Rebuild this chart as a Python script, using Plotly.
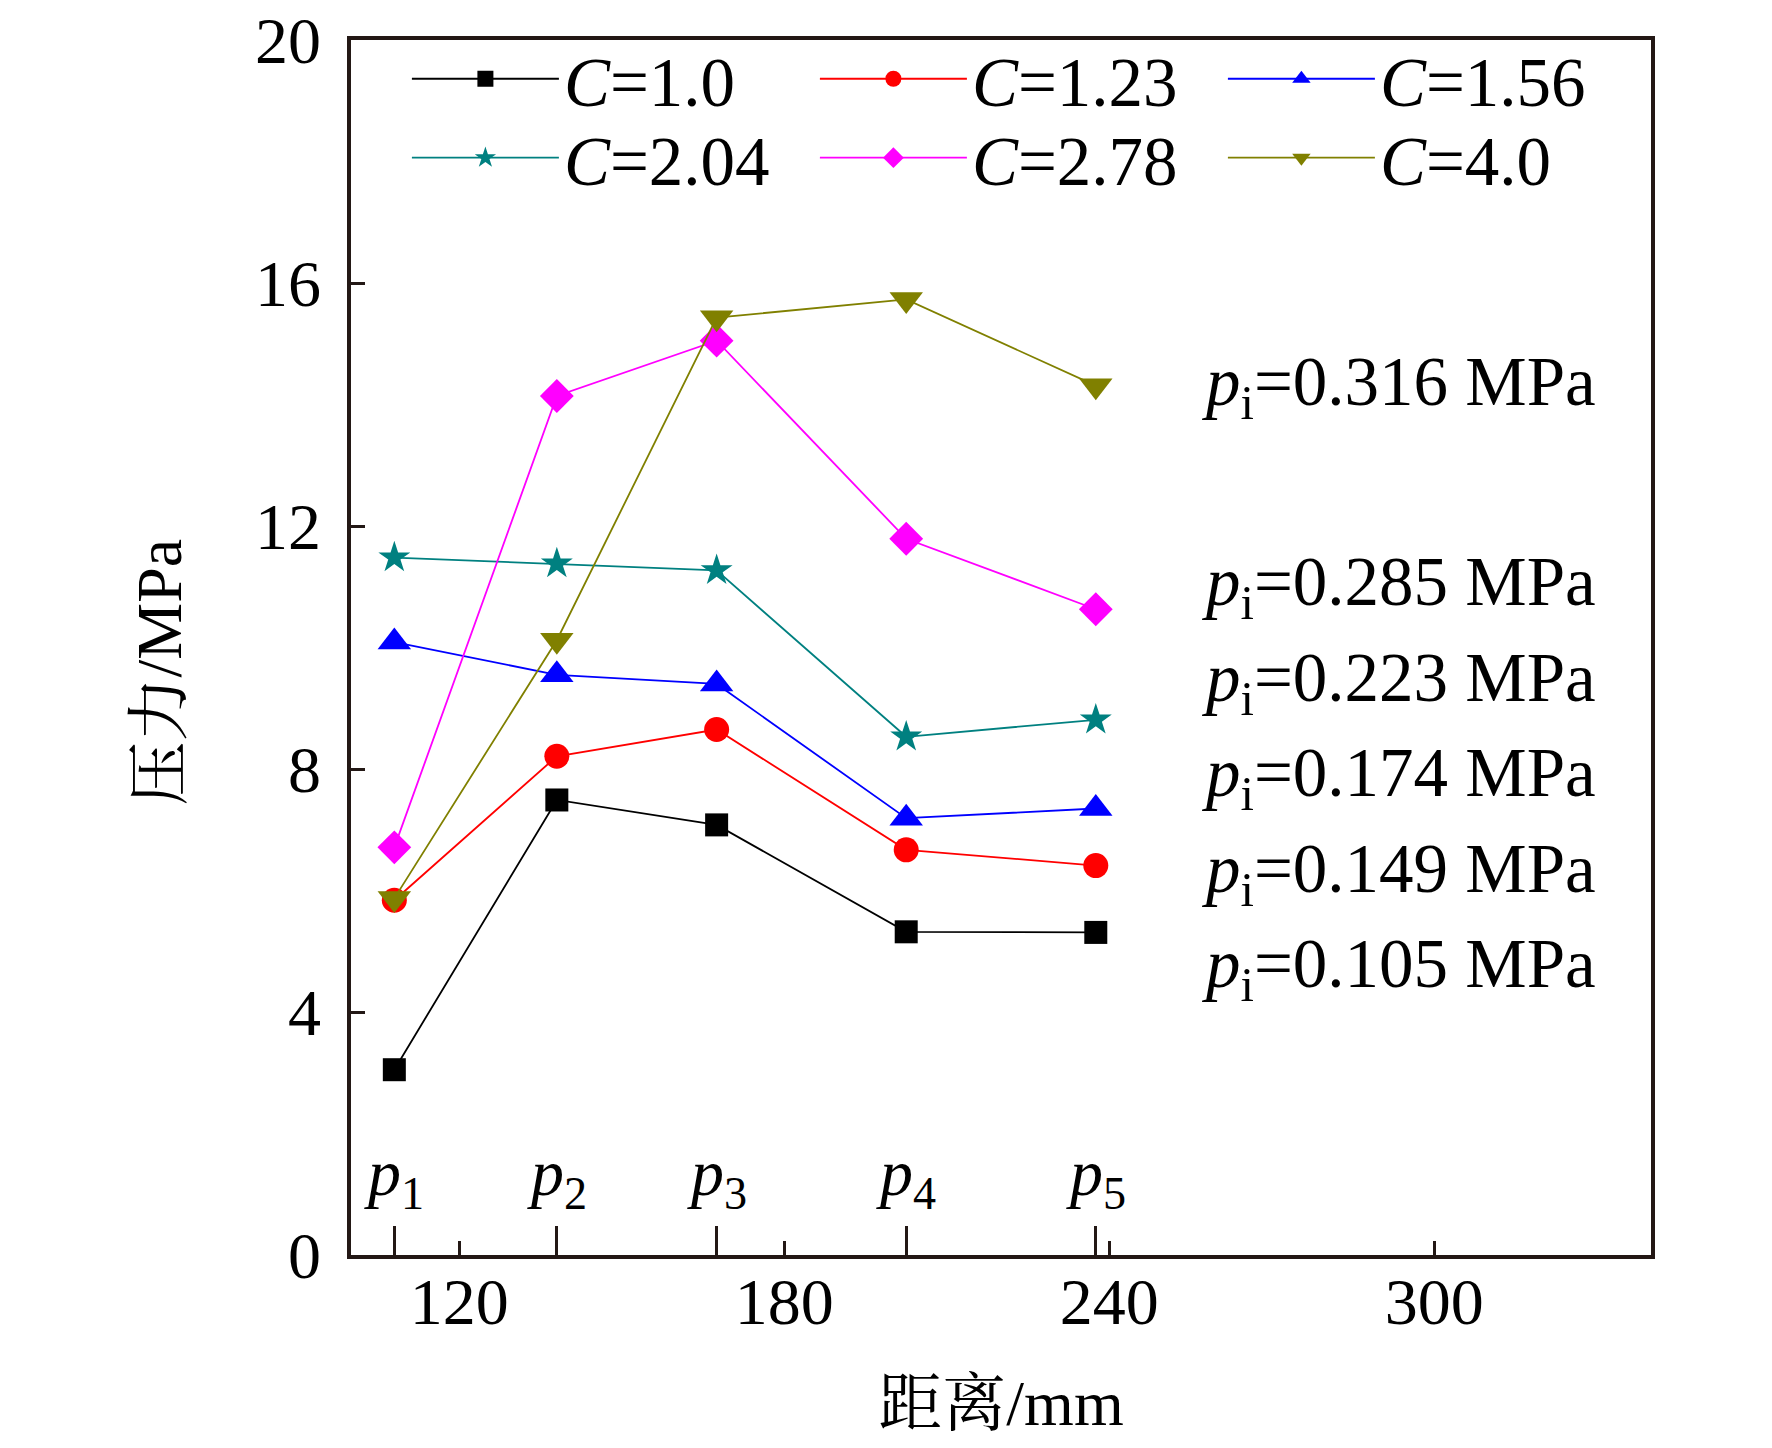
import plotly.graph_objects as go

# measuring points along the specimen (mm)
distance = [108, 138, 167.5, 202.5, 237.5]
point_names = ["<i>p</i><sub>1</sub>", "<i>p</i><sub>2</sub>", "<i>p</i><sub>3</sub>",
               "<i>p</i><sub>4</sub>", "<i>p</i><sub>5</sub>"]

# pressure (MPa) for each C value
series_names = ["<i>C</i>=1.0", "<i>C</i>=1.23", "<i>C</i>=1.56",
                "<i>C</i>=2.04", "<i>C</i>=2.78", "<i>C</i>=4.0"]
p_c100 = [3.05, 7.49, 7.08, 5.32, 5.31]
p_c123 = [5.84, 8.21, 8.65, 6.67, 6.41]
p_c156 = [10.09, 9.55, 9.40, 7.19, 7.35]
p_c204 = [11.48, 11.38, 11.27, 8.53, 8.81]
p_c278 = [6.71, 14.14, 15.05, 11.79, 10.63]
p_c400 = [5.87, 10.12, 15.43, 15.73, 14.31]

pi_values = ["0.316", "0.285", "0.223", "0.174", "0.149", "0.105"]

x_ticks = [120, 180, 240, 300]
y_ticks = [0, 4, 8, 12, 16, 20]

FONT = "Liberation Serif, Times New Roman, Noto Serif CJK SC, Noto Sans CJK SC"
AXC = "#231815"

colors = ["#000000", "#ff0000", "#0000ff", "#008080", "#ff00ff", "#808000"]
symbols = ["square", "circle", "triangle-up", "star", "diamond", "triangle-down"]
msizes = [23, 25, 29, 24, 26, 29]
all_data = [p_c100, p_c123, p_c156, p_c204, p_c278, p_c400]

fig = go.Figure()
for i, (name, vals) in enumerate(zip(series_names, all_data)):
    fig.add_trace(go.Scatter(
        x=distance, y=vals, name=name, mode="lines+markers",
        line=dict(color=colors[i], width=1.8),
        marker=dict(symbol=symbols[i], size=msizes[i], color=colors[i]),
        legend="legend" if i < 3 else "legend2",
    ))

# long ticks marking the measuring points
fig.add_trace(go.Scatter(x=distance, y=[None] * 5, xaxis="x2", showlegend=False,
                         hoverinfo="skip"))

annos = []
for xv, t in zip(distance, point_names):
    annos.append(dict(x=xv, y=0, xref="x", yref="y", text=t, showarrow=False,
                      xanchor="center", yanchor="bottom", yshift=34,
                      font=dict(family=FONT, size=66, color="black")))

pi_y = [14.29, 11.01, 9.43, 7.86, 6.28, 4.71]
for yv, v in zip(pi_y, pi_values):
    annos.append(dict(x=0.652, y=yv, xref="paper", yref="y",
                      text="<i>p</i><sub>i</sub>=" + v + " MPa", showarrow=False,
                      xanchor="left", yanchor="middle",
                      font=dict(family=FONT, size=69, color="black")))

# y axis title, placed by hand so it sits like the original
annos.append(dict(x=0, y=0.5, xref="paper", yref="paper", text="压力/MPa",
                  textangle=-90, showarrow=False, xanchor="center", yanchor="middle",
                  xshift=-192, yshift=-25,
                  font=dict(family=FONT, size=64, color="black")))

leg_common = dict(orientation="h", xanchor="left", yanchor="middle",
                  bgcolor="rgba(0,0,0,0)", borderwidth=0, itemwidth=147,
                  entrywidth=246, entrywidthmode="pixels",
                  font=dict(family=FONT, size=69, color="black"))

fig.update_layout(
    width=1772, height=1448,
    margin=dict(l=343, r=129, t=32, b=201, autoexpand=False),
    paper_bgcolor="white", plot_bgcolor="white",
    font=dict(family=FONT, size=66, color="black"),
    annotations=annos,
    legend=dict(x=0.043, y=0.968, **leg_common),
    legend2=dict(x=0.043, y=0.903, **leg_common),
    xaxis=dict(
        range=[100, 340], tickvals=x_ticks, ticks="inside", ticklen=14,
        tickwidth=2.5, tickcolor=AXC, showline=True, linewidth=3.5, linecolor=AXC,
        mirror=True, showgrid=False, zeroline=False, ticklabelstandoff=-14,
        tickfont=dict(family=FONT, size=66), ticklabeloverflow="allow",
        automargin=False,
        title=dict(text="距离/mm", font=dict(family=FONT, size=64), standoff=44),
    ),
    xaxis2=dict(
        range=[100, 340], overlaying="x", anchor="y", side="bottom",
        tickvals=distance, ticks="inside", ticklen=29, tickwidth=2.5,
        tickcolor=AXC, showticklabels=False, showline=False, showgrid=False,
        zeroline=False, automargin=False,
    ),
    yaxis=dict(
        range=[-0.0001, 20.0001], tickvals=y_ticks, ticks="inside", ticklen=14,
        tickwidth=3, tickcolor=AXC, showline=True, linewidth=3.5, linecolor=AXC,
        mirror=True, showgrid=False, zeroline=False, ticklabelstandoff=13,
        tickfont=dict(family=FONT, size=66), ticklabeloverflow="allow",
        automargin=False,
    ),
)

fig.write_html("out.html")
